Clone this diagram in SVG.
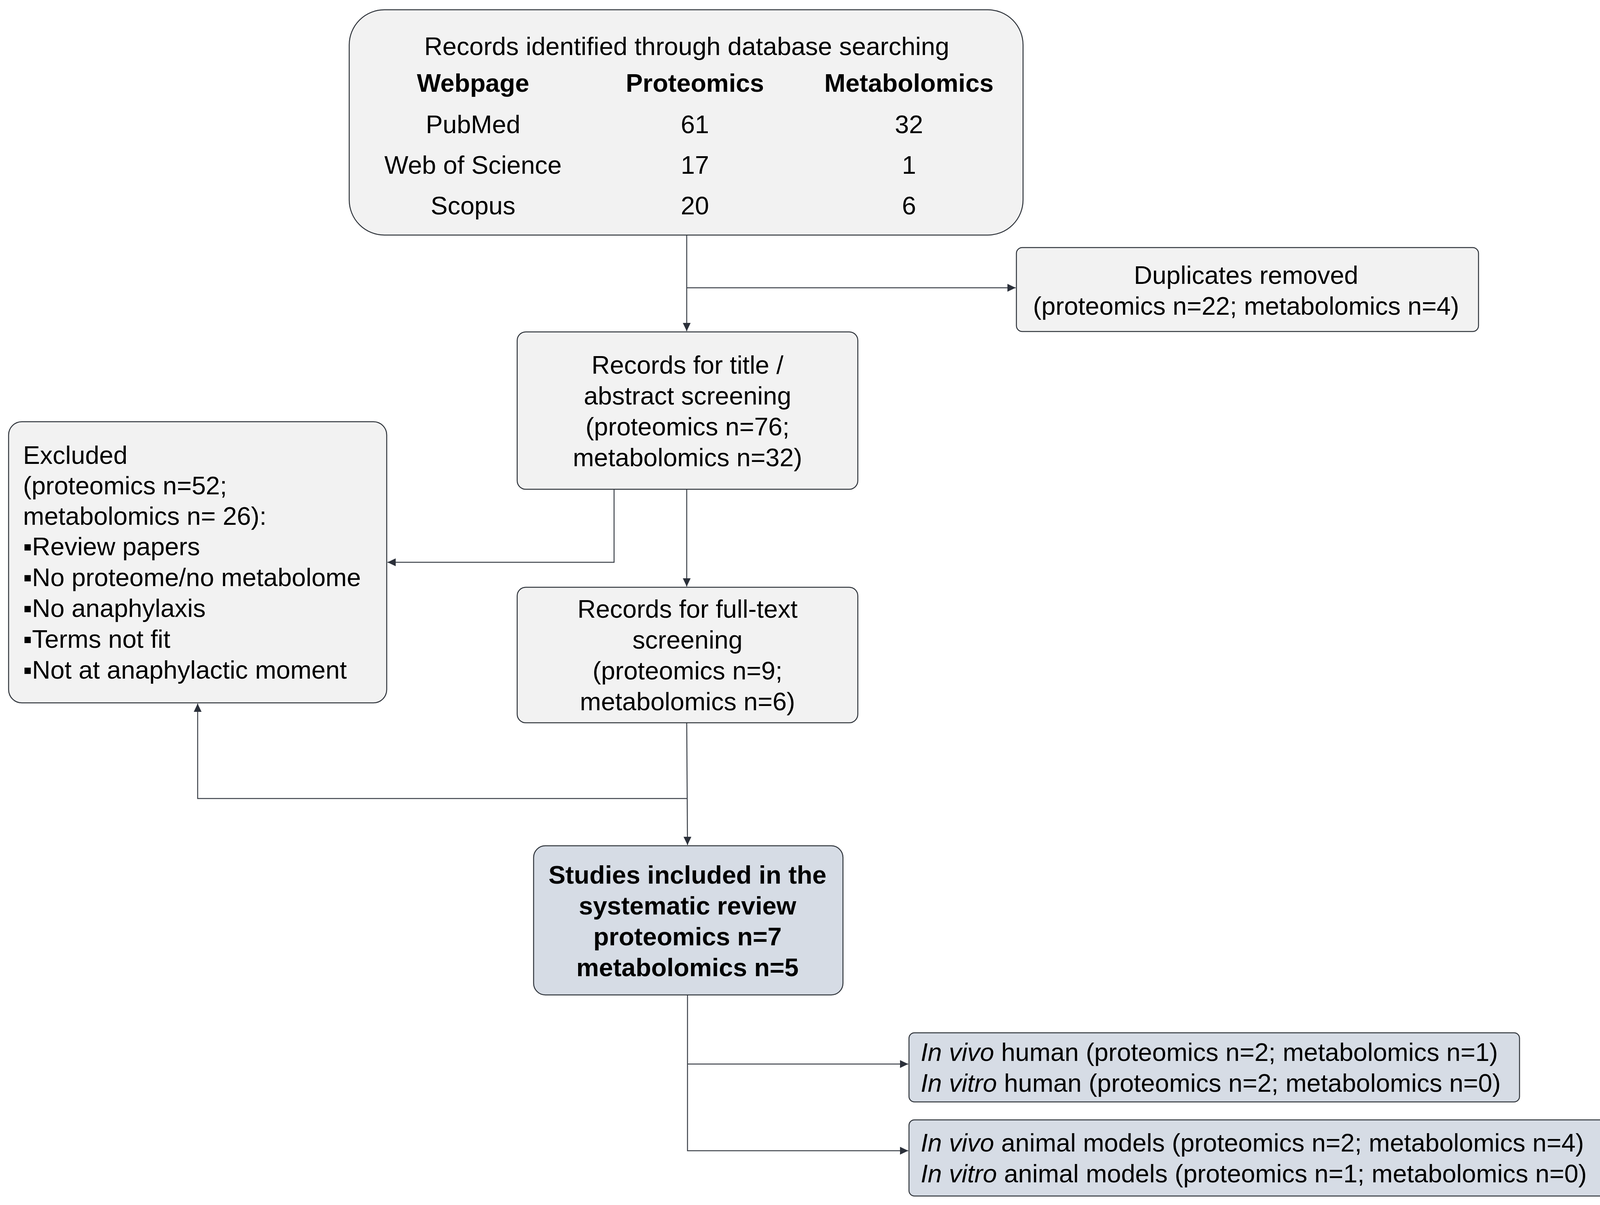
<svg xmlns="http://www.w3.org/2000/svg" width="4154" height="3086" viewBox="0 0 4154 3086">
<style>
.box{fill:#F2F2F2;stroke:#2F343B;stroke-width:2.5}
.blue{fill:#D6DCE5}
.t{font-family:"Liberation Sans",Arial,sans-serif;font-size:65px;fill:#000}
.c{text-anchor:middle}
.b{font-weight:bold}
.i{font-style:italic}
.conn{fill:none;stroke:#3B4048;stroke-width:2.5}
</style>
<defs>
<marker id="ah" markerUnits="userSpaceOnUse" markerWidth="22" markerHeight="20" refX="21" refY="10" orient="auto">
<path d="M0,0 L21,10 L0,20 Z" fill="#2B303A"/>
</marker>
</defs>
<rect width="4154" height="3086" fill="#FFFFFF"/>
<g id="connectors">
<path class="conn" d="M1758,603 V848" marker-end="url(#ah)"/>
<path class="conn" d="M1758,737 H2600" marker-end="url(#ah)"/>
<path class="conn" d="M1572,1253 V1440 H992" marker-end="url(#ah)"/>
<path class="conn" d="M1758,1253 V1502" marker-end="url(#ah)"/>
<path class="conn" d="M1758,1851 L1760,2164" marker-end="url(#ah)"/>
<path class="conn" d="M1759,2045 H506 V1802" marker-end="url(#ah)"/>
<path class="conn" d="M1760,2548 V2947 H2325" marker-end="url(#ah)"/>
<path class="conn" d="M1760,2725 H2325" marker-end="url(#ah)"/>
</g>
<g id="node-search">
<rect class="box" x="894" y="25" width="1725" height="577" rx="90" ry="90"/>
<text class="t c" x="1758" y="141">Records identified through database searching</text>
<text class="t c b" x="1211" y="235">Webpage</text>
<text class="t c b" x="1779" y="235">Proteomics</text>
<text class="t c b" x="2327" y="235">Metabolomics</text>
<text class="t c" x="1211" y="341">PubMed</text>
<text class="t c" x="1779" y="341">61</text>
<text class="t c" x="2327" y="341">32</text>
<text class="t c" x="1211" y="445">Web of Science</text>
<text class="t c" x="1779" y="445">17</text>
<text class="t c" x="2327" y="445">1</text>
<text class="t c" x="1211" y="549">Scopus</text>
<text class="t c" x="1779" y="549">20</text>
<text class="t c" x="2327" y="549">6</text>
</g>
<g id="node-duplicates">
<rect class="box" x="2602" y="634" width="1183" height="215" rx="15" ry="15"/>
<text class="t c" x="3190" y="727">Duplicates removed</text>
<text class="t c" x="3190" y="806">(proteomics n=22; metabolomics n=4)</text>
</g>
<g id="node-title-abstract">
<rect class="box" x="1324" y="850" width="872" height="403" rx="22" ry="22"/>
<text class="t c" x="1760" y="957">Records for title /</text>
<text class="t c" x="1760" y="1036">abstract screening</text>
<text class="t c" x="1760" y="1115">(proteomics n=76;</text>
<text class="t c" x="1760" y="1194">metabolomics n=32)</text>
</g>
<g id="node-excluded">
<rect class="box" x="22" y="1080" width="968" height="720" rx="34" ry="34"/>
<text class="t" x="59" y="1188">Excluded</text>
<text class="t" x="59" y="1266">(proteomics n=52;</text>
<text class="t" x="59" y="1344">metabolomics n= 26):</text>
<text class="t" x="59" y="1422">▪Review papers</text>
<text class="t" x="59" y="1501">▪No proteome/no metabolome</text>
<text class="t" x="59" y="1580">▪No anaphylaxis</text>
<text class="t" x="59" y="1659">▪Terms not fit</text>
<text class="t" x="59" y="1738">▪Not at anaphylactic moment</text>
</g>
<g id="node-fulltext">
<rect class="box" x="1324" y="1504" width="872" height="347" rx="22" ry="22"/>
<text class="t c" x="1760" y="1582">Records for full-text</text>
<text class="t c" x="1760" y="1661">screening</text>
<text class="t c" x="1760" y="1740">(proteomics n=9;</text>
<text class="t c" x="1760" y="1819">metabolomics n=6)</text>
</g>
<g id="node-included">
<rect class="box blue" x="1366" y="2166" width="792" height="382" rx="30" ry="30"/>
<text class="t c b" x="1760" y="2263">Studies included in the</text>
<text class="t c b" x="1760" y="2342">systematic review</text>
<text class="t c b" x="1760" y="2421">proteomics n=7</text>
<text class="t c b" x="1760" y="2500">metabolomics n=5</text>
</g>
<g id="node-human">
<rect class="box blue" x="2327" y="2645" width="1563" height="177" rx="14" ry="14"/>
<text class="t" x="2357" y="2717"><tspan class="i">In vivo</tspan> human (proteomics n=2; metabolomics n=1)</text>
<text class="t" x="2357" y="2796"><tspan class="i">In vitro</tspan> human (proteomics n=2; metabolomics n=0)</text>
</g>
<g id="node-animal">
<rect class="box blue" x="2327" y="2868" width="1808" height="195" rx="14" ry="14"/>
<text class="t" x="2357" y="2949"><tspan class="i">In vivo</tspan> animal models (proteomics n=2; metabolomics n=4)</text>
<text class="t" x="2357" y="3028"><tspan class="i">In vitro</tspan> animal models (proteomics n=1; metabolomics n=0)</text>
</g>
</svg>
